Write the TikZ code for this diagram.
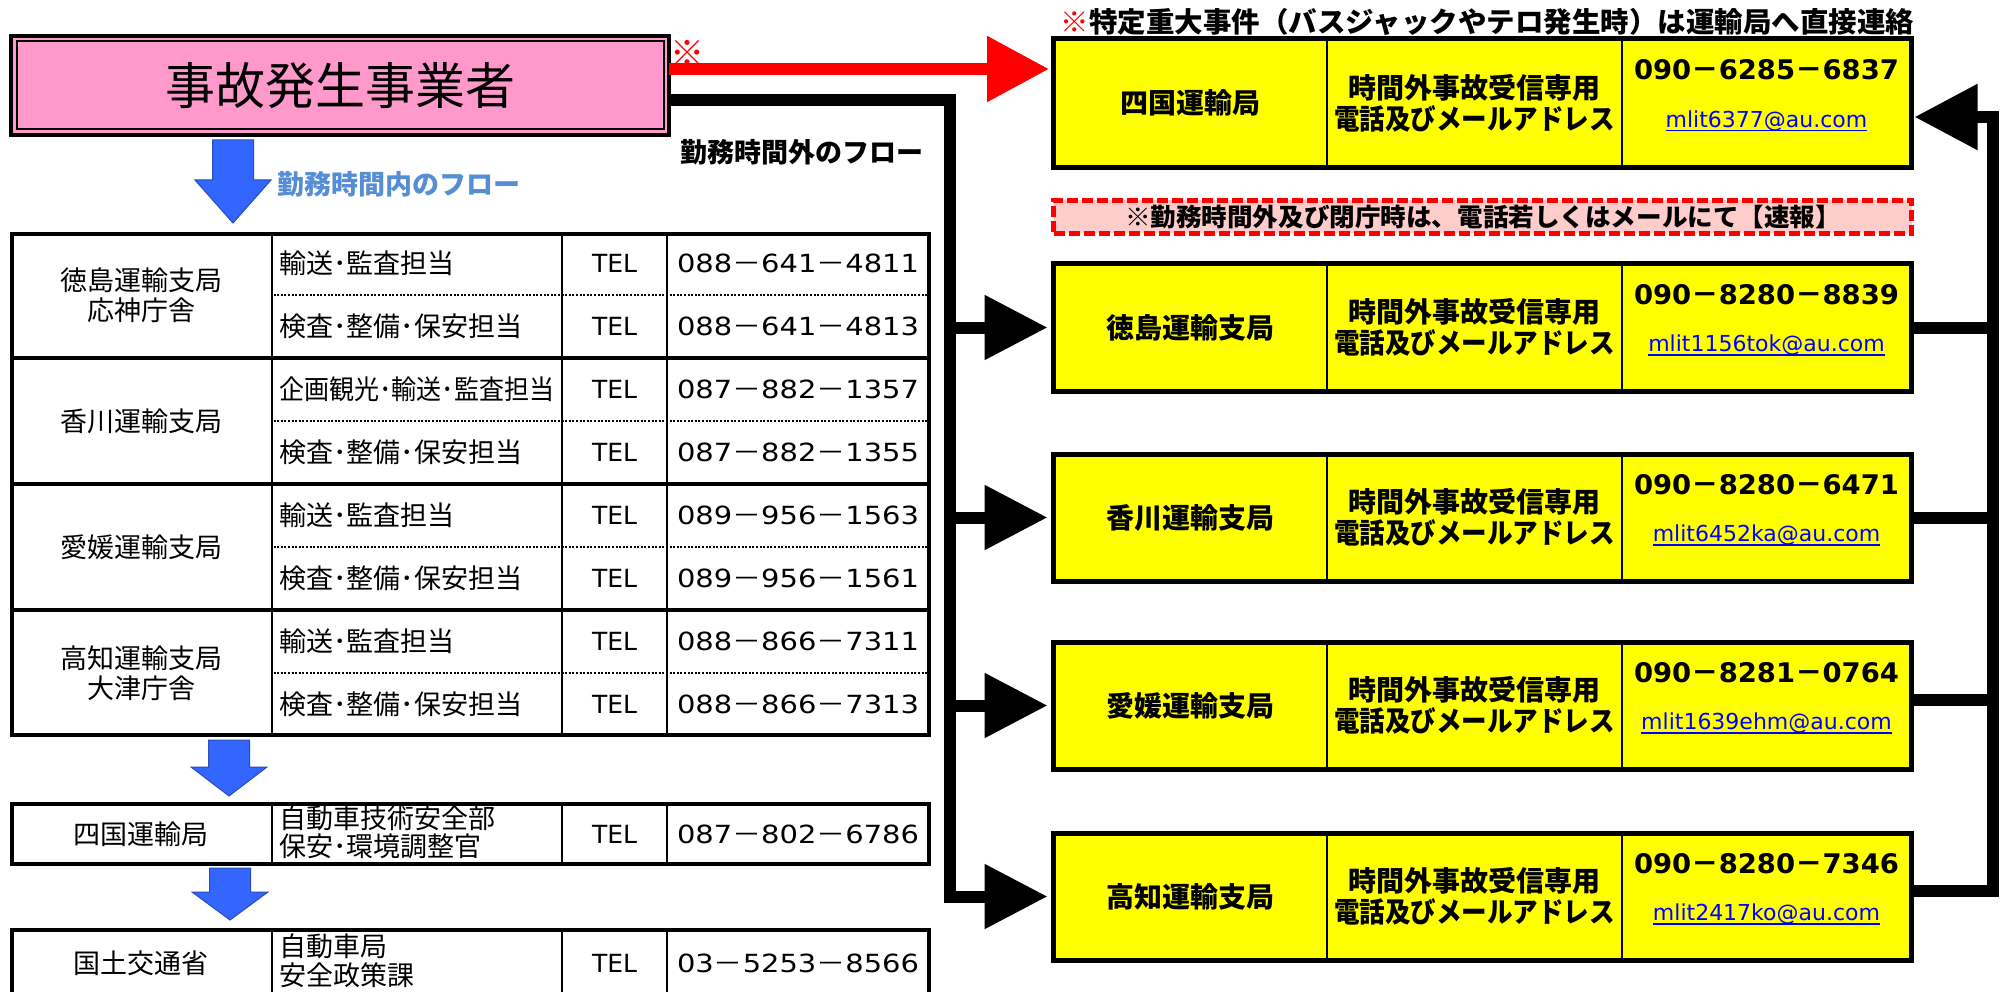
\documentclass[tikz,border=0pt]{standalone}
\usepackage{fontspec}
\usepackage{graphicx}
\setmainfont{Noto Sans CJK JP}
\newfontfamily\dv{DejaVu Sans}
\usetikzlibrary{arrows.meta,calc}
\definecolor{pinkc}{HTML}{FF99CC}
\definecolor{ylw}{HTML}{FFFF00}
\definecolor{bannerc}{HTML}{FFCCCC}
\definecolor{lbl}{HTML}{558ED5}
\definecolor{arrblue}{HTML}{3366FF}
\definecolor{arredge}{HTML}{2A4DB8}
\definecolor{mailc}{HTML}{0000FF}
\newcommand\fs[1]{\fontsize{#1}{#1}\selectfont}
\newcommand\fsl[2]{\fontsize{#1}{#2}\selectfont}
\newcommand\fitw[2]{\resizebox{#1pt}{\height}{#2}}
\newcommand\ph[3]{{\dv #1}－{\dv #2}－{\dv #3}}
\tikzset{
 every node/.style={inner sep=0pt, outer sep=0pt},
 ltxt/.style={font=\fs{27}},
 rbox/.style={draw, line width=5pt, fill=ylw, minimum width=858pt, anchor=north west},
 tline/.style={line width=2.5pt},
 frame/.style={line width=4.5pt},
 gsep/.style={line width=3.5pt},
 dotl/.style={line width=2pt, dash pattern=on 2pt off 1.6pt},
 flow/.style={line width=12pt, miter limit=10},
 flowtip/.style={flow, -{Triangle[length=63pt,width=62pt]}},
 redflow/.style={line width=12pt, color=red, -{Triangle[length=62pt,width=63pt]}},
 bluearr/.style={fill=arrblue, draw=arredge, line width=1pt},
}
\newcommand\rbx[6]{%
 \node[rbox, minimum height=#3pt] (#1) at (1053.5,#2) {};
 \draw[tline] ($(#1.north west)+(273.5,0)$) -- ($(#1.south west)+(273.5,0)$);
 \draw[tline] ($(#1.north west)+(568.5,0)$) -- ($(#1.south west)+(568.5,0)$);
 \node[font=\bfseries\fs{28}] (#1o) at ($(#1.west)+(136.5,0)$) {#4};
 \node[font=\bfseries\fsl{28}{31}, align=center] (#1l) at ($(#1.west)+(421,0)$) {時間外事故受信専用\\\fitw{281}{電話及びメールアドレス}};
 \node[font=\bfseries\fs{27}] (#1p) at ($(#1.west)+(713,-33)$) {\fitw{265}{#5}};
 \node[font=\dv\fs{22}, text=mailc] (#1m) at ($(#1.west)+(713,18)$) {#6};
 \draw[mailc, line width=1.5pt] ([yshift=-3pt]#1m.base west) -- ([yshift=-3pt]#1m.base east);
}
\newcommand\trow[4]{%
 \node[ltxt, anchor=west] (#1d) at (279,#2) {#3};
 \node[font=\dv\fs{25}] (#1t) at (614.5,#2) {TEL};
 \node[font=\fs{25}, anchor=west] (#1n) at (677,#2) {\fitw{242}{#4}};
}
\newcommand\bdown[4]{\filldraw[bluearr] ({#1-20.5},#2) -- ({#1+20.5},#2) -- ({#1+20.5},#3) -- ({#1+38},#3) -- (#1,#4) -- ({#1-38},#3) -- ({#1-20.5},#3) -- cycle;}
\begin{document}
\begin{tikzpicture}[x=1pt,y=-1pt]
\useasboundingbox (0,0) rectangle (2002,992);
\fill[white] (0,0) rectangle (2002,992);
\clip (0,0) rectangle (2002,992);

% top box
\node[draw, line width=4pt, fill=pinkc, minimum width=658pt, minimum height=99pt, anchor=north west, font=\fs{50}] (top) at (11,36) {事故発生事業者};
\draw[line width=2pt] ($(top.north west)+(5.5,5.5)$) rectangle ($(top.south east)+(-5.5,-5.5)$);
\node[font=\fs{34}, text=red] (mark) at (687,53) {※};

% labels
\node[font=\bfseries\fs{27}] (outl) at (801.5,152) {勤務時間外のフロー};
\node[font=\bfseries\fs{27}, text=lbl] (inl) at (398.5,184) {勤務時間内のフロー};

% title and banner
\node[font=\bfseries\fs{28}] (title) at (1487.5,21.5) {\fitw{853}{\textcolor{red}{※}特定重大事件（バスジャックやテロ発生時）は運輸局へ直接連絡}};
\node[draw=red, fill=bannerc, line width=5pt, dash pattern=on 11pt off 4pt, minimum width=858pt, minimum height=33pt, anchor=north west] (ban) at (1053.5,200.5) {};
\node[font=\bfseries\fs{25}] (bant) at (1483,217) {\fitw{716}{※勤務時間外及び閉庁時は、電話若しくはメールにて【速報】}};

% right boxes
\rbx{sk}{38.5}{129}{四国運輸局}{\ph{090}{6285}{6837}}{mlit6377@au.com}
\rbx{tok}{264}{127}{徳島運輸支局}{\ph{090}{8280}{8839}}{mlit1156tok@au.com}
\rbx{kag}{454}{127}{香川運輸支局}{\ph{090}{8280}{6471}}{mlit6452ka@au.com}
\rbx{ehm}{642}{127}{愛媛運輸支局}{\ph{090}{8281}{0764}}{mlit1639ehm@au.com}
\rbx{koc}{833}{127}{高知運輸支局}{\ph{090}{8280}{7346}}{mlit2417ko@au.com}

% red flow
\coordinate (r0) at ([yshift=16.5pt]top.east);
\coordinate (r1) at ([xshift=-4.5pt]sk.west);
\draw[redflow] (r0) -- (r0 -| r1);

% black flow (out of hours)
\coordinate (bx) at (950,0);
\coordinate (b0) at ([yshift=-15pt]top.east);
\draw[flowtip] (b0) -- (b0 -| bx) -- (bx |- koc.west) -- ([xshift=-6pt]koc.west);
\foreach \n in {tok,kag,ehm} \draw[flowtip] (bx |- \n.west) -- ([xshift=-6pt]\n.west);

% return flow to Shikoku
\coordinate (rx) at (1993,0);
\coordinate (skt) at ([xshift=3pt,yshift=-14pt]sk.east);
\coordinate (k1) at ([yshift=6pt]koc.east);
\coordinate (e1) at ([yshift=6pt]ehm.east);
\draw[flow, -{Triangle[length=63pt,width=63pt]}] (k1) -- (k1 -| rx) -- (rx |- skt) -- (skt);
\draw[flow] (tok.east) -- (tok.east -| rx);
\draw[flow] (kag.east) -- (kag.east -| rx);
\draw[flow] (e1) -- (e1 -| rx);

% blue arrows
\bdown{233}{140}{180}{223}
\bdown{229}{740}{767}{796}
\bdown{230}{868}{892}{920}

% table 1
\draw[frame] (12,234) rectangle (929,735);
\foreach \x in {272,562,667} \draw[tline] (\x,234) -- (\x,735);
\foreach \y in {358,484,610} \draw[gsep] (12,\y) -- (929,\y);
\foreach \y in {295,421,547,673} \draw[dotl] (273.5,\y) -- (927,\y);
\node[font=\fsl{27}{30}, align=center] (g1) at (141,295) {徳島運輸支局\\応神庁舎};
\node[ltxt] (g2) at (141,421) {香川運輸支局};
\node[ltxt] (g3) at (141,547) {愛媛運輸支局};
\node[font=\fsl{27}{30}, align=center] (g4) at (141,673) {高知運輸支局\\大津庁舎};
\trow{ra}{263.5}{輸送･監査担当}{\ph{088}{641}{4811}}
\trow{rb}{326.5}{検査･整備･保安担当}{\ph{088}{641}{4813}}
\trow{rc}{389.5}{\fitw{275}{企画観光･輸送･監査担当}}{\ph{087}{882}{1357}}
\trow{rd}{452.5}{検査･整備･保安担当}{\ph{087}{882}{1355}}
\trow{re}{515.5}{輸送･監査担当}{\ph{089}{956}{1563}}
\trow{rf}{578.5}{検査･整備･保安担当}{\ph{089}{956}{1561}}
\trow{rg}{641.5}{輸送･監査担当}{\ph{088}{866}{7311}}
\trow{rh}{704.5}{検査･整備･保安担当}{\ph{088}{866}{7313}}

% table 2
\draw[frame] (12,804) rectangle (929,864);
\foreach \x in {272,562,667} \draw[tline] (\x,804) -- (\x,864);
\node[ltxt] (t2a) at (141,834) {四国運輸局};
\node[font=\fsl{27}{28}, align=left, anchor=west] (t2b) at (279,832) {自動車技術安全部\\保安･環境調整官};
\node[font=\dv\fs{25}] (t2c) at (614.5,834) {TEL};
\node[font=\fs{25}, anchor=west] (t2d) at (677,834) {\fitw{242}{\ph{087}{802}{6786}}};

% table 3
\draw[frame] (12,930) rectangle (929,1010);
\foreach \x in {272,562,667} \draw[tline] (\x,930) -- (\x,1010);
\node[ltxt] (t3a) at (141,963) {国土交通省};
\node[font=\fsl{27}{29}, align=left, anchor=west] (t3b) at (279,961) {自動車局\\安全政策課};
\node[font=\dv\fs{25}] (t3c) at (614.5,963) {TEL};
\node[font=\fs{25}, anchor=west] (t3d) at (677,963) {\fitw{242}{\ph{03}{5253}{8566}}};
\end{tikzpicture}
\end{document}
